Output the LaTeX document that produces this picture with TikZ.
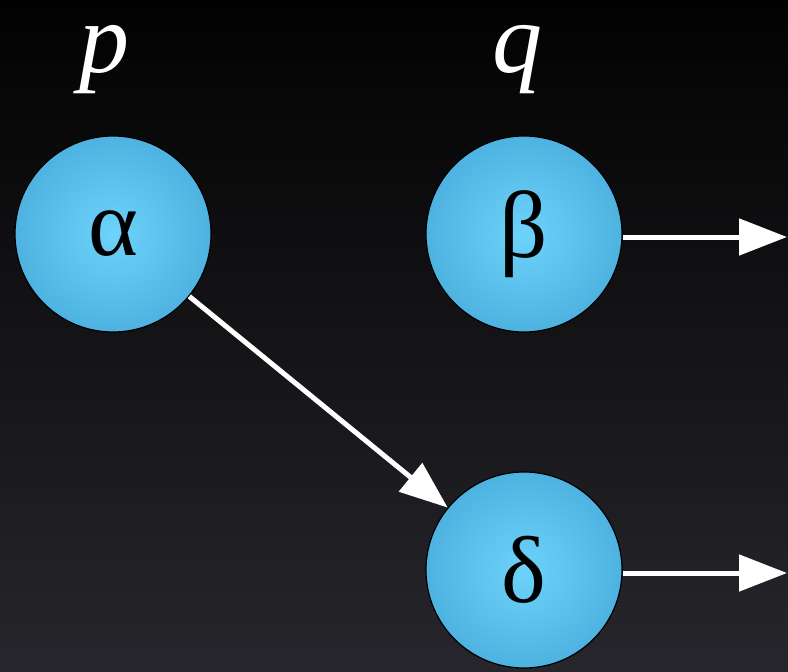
\documentclass[tikz,border=0pt]{standalone}
\usepackage{fontspec}
\setmainfont{Liberation Serif}
\usetikzlibrary{arrows.meta}
\definecolor{bgtop}{HTML}{020202}
\definecolor{bgbot}{HTML}{26262C}
\definecolor{ballin}{HTML}{6DD3FA}
\definecolor{ballout}{HTML}{2A8CC2}
\pgfdeclareradialshading{ballshade}{\pgfpoint{0bp}{0bp}}{color(0bp)=(ballin); color(30bp)=(ballin!45!ballout); color(50bp)=(ballout!88!black)}
\begin{document}
\begin{tikzpicture}[x=1pt,y=-1pt,
  ball/.style={circle, draw=black, line width=1.2pt, shading=ballshade, minimum size=196pt, inner sep=0pt, font=\fontsize{95}{100}\selectfont, text=black},
  toplabel/.style={text=white, font=\itshape\fontsize{100}{110}\selectfont, anchor=base, inner sep=0pt},
  link/.style={draw=white, line width=5pt, -{Triangle[length=48pt,width=36pt]}}]
\shade[top color=bgtop, bottom color=bgbot] (0,0) rectangle (788,672);
\useasboundingbox (0,0) rectangle (788,672);
\node[toplabel] (p) at (104,72) {p};
\node[toplabel] (q) at (517,72) {q};
\node[ball] (a) at (113,234) {α};
\node[ball] (b) at (524,234) {β};
\node[ball] (d) at (524,570) {δ};
\coordinate (bend) at (787,237);
\coordinate (dend) at (787,573);
\draw[link] (b.east |- bend) -- (bend);
\draw[link] (d.east |- dend) -- (dend);
\draw[link] (a) -- (d);
\end{tikzpicture}
\end{document}
